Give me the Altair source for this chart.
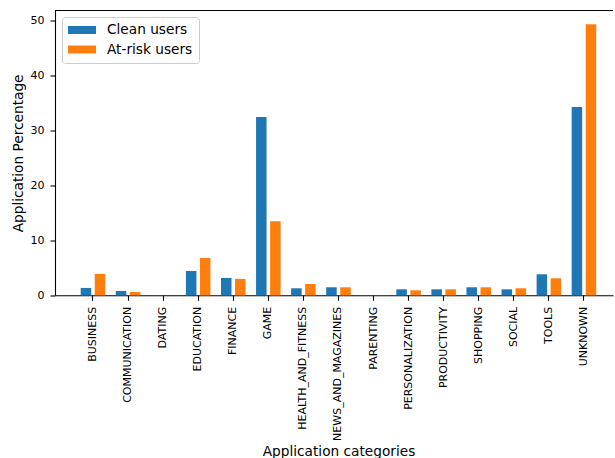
import altair as alt
import pandas as pd

categories = ["BUSINESS", "COMMUNICATION", "DATING", "EDUCATION", "FINANCE", "GAME",
              "HEALTH_AND_FITNESS", "NEWS_AND_MAGAZINES", "PARENTING", "PERSONALIZATION",
              "PRODUCTIVITY", "SHOPPING", "SOCIAL", "TOOLS", "UNKNOWN"]
clean_users = [1.34, 0.79, 0.02, 4.43, 3.16, 32.5, 1.28, 1.46, 0.02, 1.09, 1.09, 1.46, 1.09, 3.83, 34.3]
at_risk_users = [3.89, 0.61, 0.02, 6.80, 2.98, 13.5, 2.06, 1.46, 0.02, 0.91, 1.09, 1.46, 1.28, 3.10, 49.4]
groups = ["Clean users", "At-risk users"]
colors = ["#1f77b4", "#ff7f0e"]
y_ticks = [0, 10, 20, 30, 40, 50]

rows = []
for c, a, b in zip(categories, clean_users, at_risk_users):
    rows.append({"category": c, "group": groups[0], "value": a})
    rows.append({"category": c, "group": groups[1], "value": b})
df = pd.DataFrame(rows)

FONT = "DejaVu Sans"
W, H = 558, 284.8

bars = alt.Chart(df).mark_bar().encode(
    x=alt.X("category:N", sort=categories,
            scale=alt.Scale(paddingInner=0.3, paddingOuter=0.6055, align=0.605),
            axis=alt.Axis(title="Application categories", labelAngle=270, labelPadding=6,
                          titlePadding=4, titleX=283.5)),
    xOffset=alt.XOffset("group:N", sort=groups,
                        scale=alt.Scale(paddingInner=0.25, paddingOuter=0)),
    y=alt.Y("value:Q", scale=alt.Scale(domain=[0, 51.9], nice=False, zero=True),
            axis=alt.Axis(values=y_ticks, title="Application Percentage", grid=False,
                          labelPadding=6, titlePadding=5)),
    color=alt.Color("group:N", sort=groups,
                    scale=alt.Scale(domain=groups, range=colors),
                    legend=alt.Legend(title=None, orient="none", legendX=7, legendY=6.5,
                                      padding=6, fillColor="rgba(255,255,255,0.8)",
                                      strokeColor="#cccccc", cornerRadius=3,
                                      symbolType="M-1,-0.57L3,-0.57L3,0.57L-1,0.57Z",
                                      symbolSize=196, symbolStrokeWidth=0, symbolOpacity=1,
                                      labelFont=FONT, labelFontSize=13.7, labelColor="black",
                                      labelOffset=25, rowPadding=5.5)),
)

frame_top = alt.Chart(alt.Data(values=[{"f": 1}])).mark_rule(color="black", strokeWidth=1.1).encode(
    x=alt.value(0), x2=alt.value(W), y=alt.value(0)
)

chart = alt.layer(bars, frame_top).properties(
    width=W, height=H,
    autosize=alt.AutoSizeParams(type="none"),
    padding={"left": 55, "top": 10.5, "right": 2, "bottom": 162.7},
).configure_view(stroke=None).configure_axis(
    domainColor="black", domainWidth=1.1, tickColor="black", tickWidth=1.1, tickSize=5,
    labelFont=FONT, labelFontSize=11, labelColor="black",
    titleFont=FONT, titleFontSize=13.7, titleFontWeight="normal", titleColor="black",
)

chart.save("out.html", embed_options={"renderer": "svg", "actions": False})
